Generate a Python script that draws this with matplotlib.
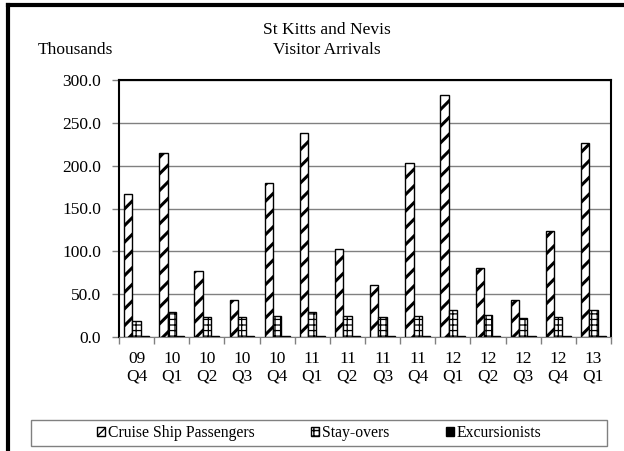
import numpy as np
import matplotlib.pyplot as plt
from matplotlib.patches import Rectangle

plt.rcParams['font.family'] = ['Liberation Serif', 'DejaVu Serif']

quarters = ["09\nQ4", "10\nQ1", "10\nQ2", "10\nQ3", "10\nQ4", "11\nQ1", "11\nQ2",
            "11\nQ3", "11\nQ4", "12\nQ1", "12\nQ2", "12\nQ3", "12\nQ4", "13\nQ1"]
cruise = [167.0, 215.0, 77.0, 43.7, 179.7, 238.7, 102.8, 60.6, 203.0, 282.8, 81.0, 43.0, 123.9, 226.0]
stayovers = [18.7, 29.3, 23.4, 23.0, 24.2, 29.7, 24.6, 23.8, 24.2, 31.2, 25.8, 22.3, 23.8, 31.2]
excursionists = [1.2, 1.5, 1.0, 0.8, 1.3, 1.6, 1.1, 0.9, 1.4, 1.7, 1.2, 0.9, 1.3, 1.6]

fig = plt.figure(figsize=(6.24, 4.51), dpi=100)
ax = fig.add_axes([119 / 624, 1 - 337 / 451, 492 / 624, 257 / 451])

x = np.arange(len(quarters))
w = 0.237
b1 = ax.bar(x - w, cruise, w, facecolor='white', edgecolor='black', hatch='//', lw=1.0,
            label='Cruise Ship Passengers', zorder=3)
b2 = ax.bar(x, stayovers, w, facecolor='white', edgecolor='black', hatch='+++', lw=1.0,
            label='Stay-overs', zorder=3)
b3 = ax.bar(x + w, excursionists, w, facecolor='black', edgecolor='black', lw=1.0,
            label='Excursionists', zorder=3)
for p in b1:
    if hasattr(p, 'set_hatch_linewidth'):
        p.set_hatch_linewidth(2.2)
for p in b2:
    if hasattr(p, 'set_hatch_linewidth'):
        p.set_hatch_linewidth(0.9)

ax.set_xlim(-0.5, len(quarters) - 0.5)
ax.set_ylim(0, 300)
ax.set_yticks(np.arange(0, 301, 50))
ax.set_yticklabels([f"{v:.1f}" for v in np.arange(0, 301, 50)], fontsize=12.5)
ax.yaxis.grid(True, color='#808080', lw=1.0, zorder=0)
ax.tick_params(axis='y', length=5, color='#808080', width=1, pad=8)

ax.set_xticks(x)
ax.set_xticklabels(quarters, fontsize=12.5, linespacing=1.15)
ax.set_xticks(np.arange(-0.5, len(quarters), 1), minor=True)
ax.tick_params(axis='x', which='major', length=0, pad=10)
ax.tick_params(axis='x', which='minor', length=5, color='#808080', width=1)

for s in ['left', 'top', 'right']:
    ax.spines[s].set_color('black')
    ax.spines[s].set_linewidth(1.5)
ax.spines['bottom'].set_color('#808080')

fig.text(327 / 624, 1 - 30 / 451, "St Kitts and Nevis", ha='center', va='center', fontsize=12.5)
fig.text(327 / 624, 1 - 50 / 451, "Visitor Arrivals", ha='center', va='center', fontsize=12.5)
fig.text(75 / 624, 1 - 50 / 451, "Thousands", ha='center', va='center', fontsize=12.5)

# legend frame and entries
fig.add_artist(Rectangle((31 / 624, 1 - 446 / 451), 576 / 624, 26 / 451, transform=fig.transFigure,
                         facecolor='white', edgecolor='#808080', lw=1.0))
leg = fig.legend(loc='center', bbox_to_anchor=(319 / 624, 1 - 433 / 451),
                 ncol=3, fontsize=11.3, frameon=False,
                 handlelength=0.55, handleheight=0.55, handletextpad=0.15, columnspacing=3.6,
                 borderaxespad=0)

# outer chart border (top and left visible)
fig.add_artist(plt.Line2D([8 / 624, 1], [1 - 5 / 451, 1 - 5 / 451], color='black', lw=3,
                          transform=fig.transFigure))
fig.add_artist(plt.Line2D([8 / 624, 8 / 624], [0, 1 - 5 / 451], color='black', lw=3,
                          transform=fig.transFigure))

fig.savefig("out.png", dpi=100)
